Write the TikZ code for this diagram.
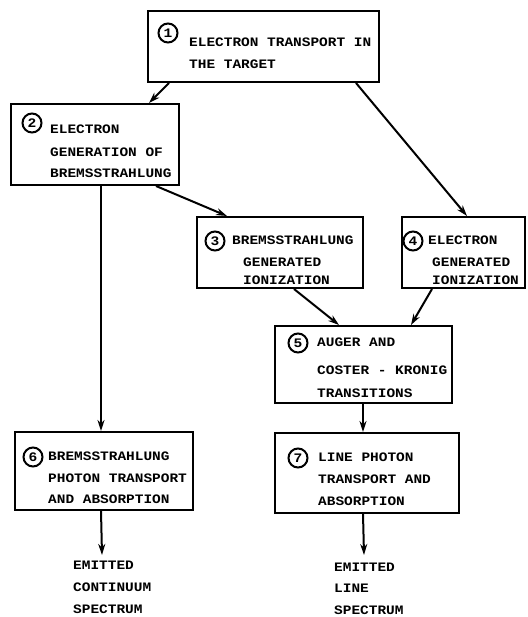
\documentclass[tikz,border=0pt]{standalone}
\usepackage{fontspec}
\usetikzlibrary{arrows.meta}
\newfontfamily\typefont{Liberation Mono}[FakeStretch=1.12]
\begin{document}
\begin{tikzpicture}[x=1pt,y=-1pt,
  box/.style={draw, line width=2pt, rectangle, inner sep=0pt},
  num/.style={circle, draw, line width=2pt, minimum size=19pt, inner sep=0pt,
    font=\typefont\bfseries\fontsize{13}{13}\selectfont},
  txt/.style={anchor=west, inner sep=0pt, text height=7pt, text depth=0pt,
    font=\typefont\bfseries\fontsize{12.9}{15}\selectfont},
  arr/.style={line width=2pt, -{Stealth[length=11pt,width=7pt]}}]
\useasboundingbox (0,0) rectangle (527,617);

% process boxes
\node[box, minimum width=231pt, minimum height=71pt] (b1) at (263.5,46.5) {};
\node[box, minimum width=168pt, minimum height=81pt] (b2) at (95,144.5) {};
\node[box, minimum width=166pt, minimum height=71pt] (b3) at (280,252.5) {};
\node[box, minimum width=123pt, minimum height=71pt] (b4) at (463.5,252.5) {};
\node[box, minimum width=177pt, minimum height=77pt] (b5) at (363.5,364.5) {};
\node[box, minimum width=178pt, minimum height=78pt] (b6) at (104,471) {};
\node[box, minimum width=184pt, minimum height=80pt] (b7) at (367,473) {};

% step numbers
\node[num] (n1) at (168,33) {1};
\node[num] (n2) at (32,123) {2};
\node[num] (n3) at (215,241) {3};
\node[num] (n4) at (413,241) {4};
\node[num] (n5) at (298,343) {5};
\node[num] (n6) at (33,457) {6};
\node[num] (n7) at (298,458) {7};

% box texts
\node[txt] (t1a) at (189,43) {ELECTRON TRANSPORT IN};
\node[txt] (t1b) at (189,65) {THE TARGET};
\node[txt] (t2a) at (50,130) {ELECTRON};
\node[txt] (t2b) at (50,153) {GENERATION OF};
\node[txt] (t2c) at (50,174) {BREMSSTRAHLUNG};
\node[txt] (t3a) at (232,241) {BREMSSTRAHLUNG};
\node[txt] (t3b) at (243,263) {GENERATED};
\node[txt] (t3c) at (243,281) {IONIZATION};
\node[txt] (t4a) at (428,241) {ELECTRON};
\node[txt] (t4b) at (432,263) {GENERATED};
\node[txt] (t4c) at (432,281) {IONIZATION};
\node[txt] (t5a) at (317,343) {AUGER AND};
\node[txt] (t5b) at (317,371) {COSTER - KRONIG};
\node[txt] (t5c) at (317,394) {TRANSITIONS};
\node[txt] (t6a) at (48,457) {BREMSSTRAHLUNG};
\node[txt] (t6b) at (48,479) {PHOTON TRANSPORT};
\node[txt] (t6c) at (48,500) {AND ABSORPTION};
\node[txt] (t7a) at (318,458) {LINE PHOTON};
\node[txt] (t7b) at (318,480) {TRANSPORT AND};
\node[txt] (t7c) at (318,502) {ABSORPTION};

% emitted spectra
\node[txt] (o6a) at (73,566) {EMITTED};
\node[txt] (o6b) at (73,588) {CONTINUUM};
\node[txt] (o6c) at (73,610) {SPECTRUM};
\node[txt] (o7a) at (334,568) {EMITTED};
\node[txt] (o7b) at (334,589) {LINE};
\node[txt] (o7c) at (334,611) {SPECTRUM};
\coordinate (e6) at (102,555);
\coordinate (e7) at (364,555);

% connectors
\draw[arr] ([xshift=22pt]b1.south west) -- ([xshift=139pt]b2.north west);
\draw[arr] ([xshift=209pt]b1.south west) -- ([xshift=66pt]b4.north west);
\draw[arr] ([xshift=146pt]b2.south west) -- ([xshift=31pt]b3.north west);
\draw[arr] ([xshift=91pt]b2.south west) -- ([xshift=87pt]b6.north west);
\draw[arr] ([xshift=98pt]b3.south west) -- ([xshift=65pt]b5.north west);
\draw[arr] ([xshift=31pt]b4.south west) -- ([xshift=137pt]b5.north west);
\draw[arr] ([xshift=89pt]b5.south west) -- ([xshift=89pt]b7.north west);
\draw[arr] ([xshift=87pt]b6.south west) -- (e6);
\draw[arr] ([xshift=89pt]b7.south west) -- (e7);
\end{tikzpicture}
\end{document}
